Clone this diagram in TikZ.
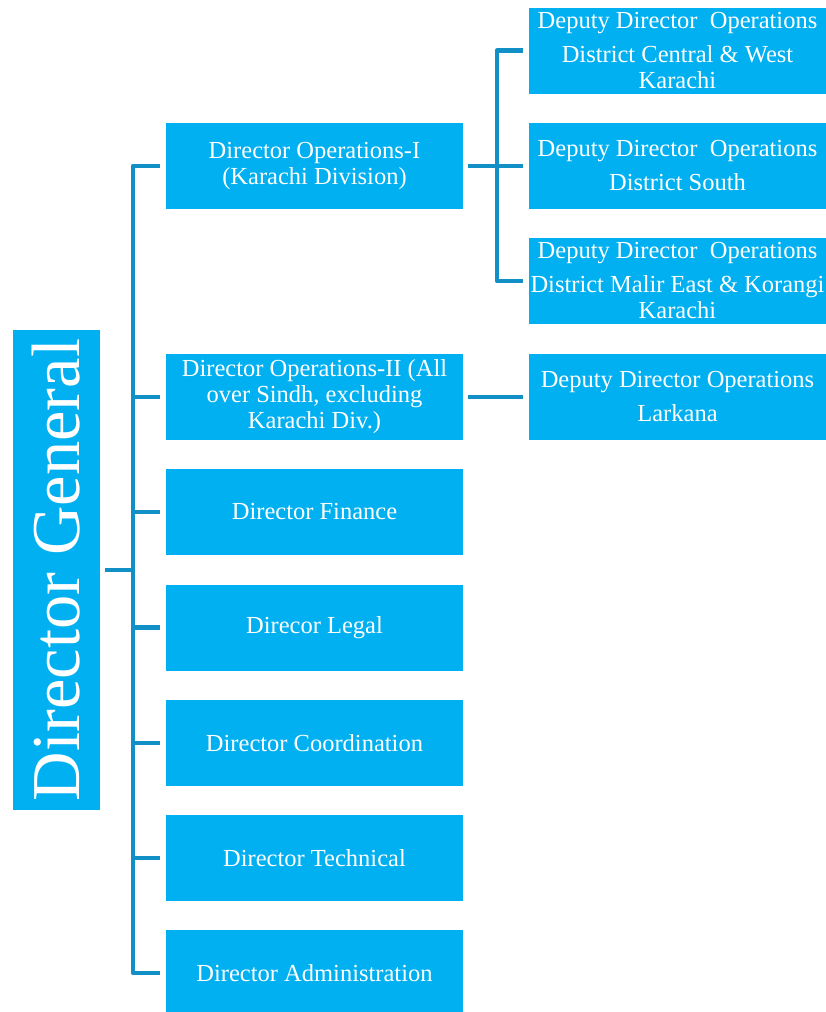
\documentclass[tikz,border=0pt]{standalone}
\usepackage{fontspec}
\setmainfont{Liberation Serif}
\definecolor{boxblue}{HTML}{00B0F0}
\definecolor{lineblue}{RGB}{16,144,198}
\begin{document}
\begin{tikzpicture}[x=1pt,y=-1pt,
  orgbox/.style={fill=boxblue, text=white, minimum width=297pt, minimum height=86pt,
    inner sep=0pt, align=center, font=\fontsize{24.5}{26}\selectfont},
  conn/.style={draw=lineblue, line width=4.5pt, line join=round}]
\useasboundingbox (0,0) rectangle (826,1012);
% Director General
\node[fill=boxblue, text=white, minimum width=480pt, minimum height=87pt, inner sep=0pt,
  rotate=90, font=\fontsize{68.5}{70}\selectfont] (dg) at (56.5,570) {Director General};
% level 1
\node[orgbox] (ops1) at (314.5,166) {Director Operations-I\\(Karachi Division)};
\node[orgbox] (ops2) at (314.5,397) {Director Operations-II (All\\over Sindh, excluding\\Karachi Div.)};
\node[orgbox] (fin) at (314.5,512) {Director Finance};
\node[orgbox] (legal) at (314.5,627.5) {Direcor Legal};
\node[orgbox] (coord) at (314.5,743) {Director Coordination};
\node[orgbox] (tech) at (314.5,858) {Director Technical};
\node[orgbox] (admin) at (314.5,973) {Director Administration};
% level 2
\node[orgbox] (dd1) at (677.5,50.5) {Deputy Director~\ Operations\\[8pt]District Central \& West\\Karachi};
\node[orgbox] (dd2) at (677.5,166) {Deputy Director~\ Operations\\[8pt]District South};
\node[orgbox] (dd3) at (677.5,281) {Deputy Director~\ Operations\\[8pt]District Malir East \& Korangi\\Karachi};
\node[orgbox] (ddl) at (677.5,397) {Deputy Director Operations\\[8pt]Larkana};
% trunk
\coordinate (tr) at (133,0);
\coordinate (tr2) at (497,0);
\draw[conn] ([xshift=-6pt]ops1.west) -| (tr |- admin.west) -- ([xshift=-6pt]admin.west);
\draw[conn] ([xshift=5pt]dg.south) -- (tr |- dg.south);
\foreach \n in {ops2,fin,legal,coord,tech}
  \draw[conn] (tr |- \n.west) -- ([xshift=-6pt]\n.west);
% second level connectors
\draw[conn] ([xshift=-6pt]dd1.west) -| (tr2 |- dd3.west) -- ([xshift=-6pt]dd3.west);
\draw[conn] ([xshift=5pt]ops1.east) -- ([xshift=-6pt]dd2.west);
\draw[conn] ([xshift=5pt]ops2.east) -- ([xshift=-6pt]ddl.west);
\end{tikzpicture}
\end{document}
